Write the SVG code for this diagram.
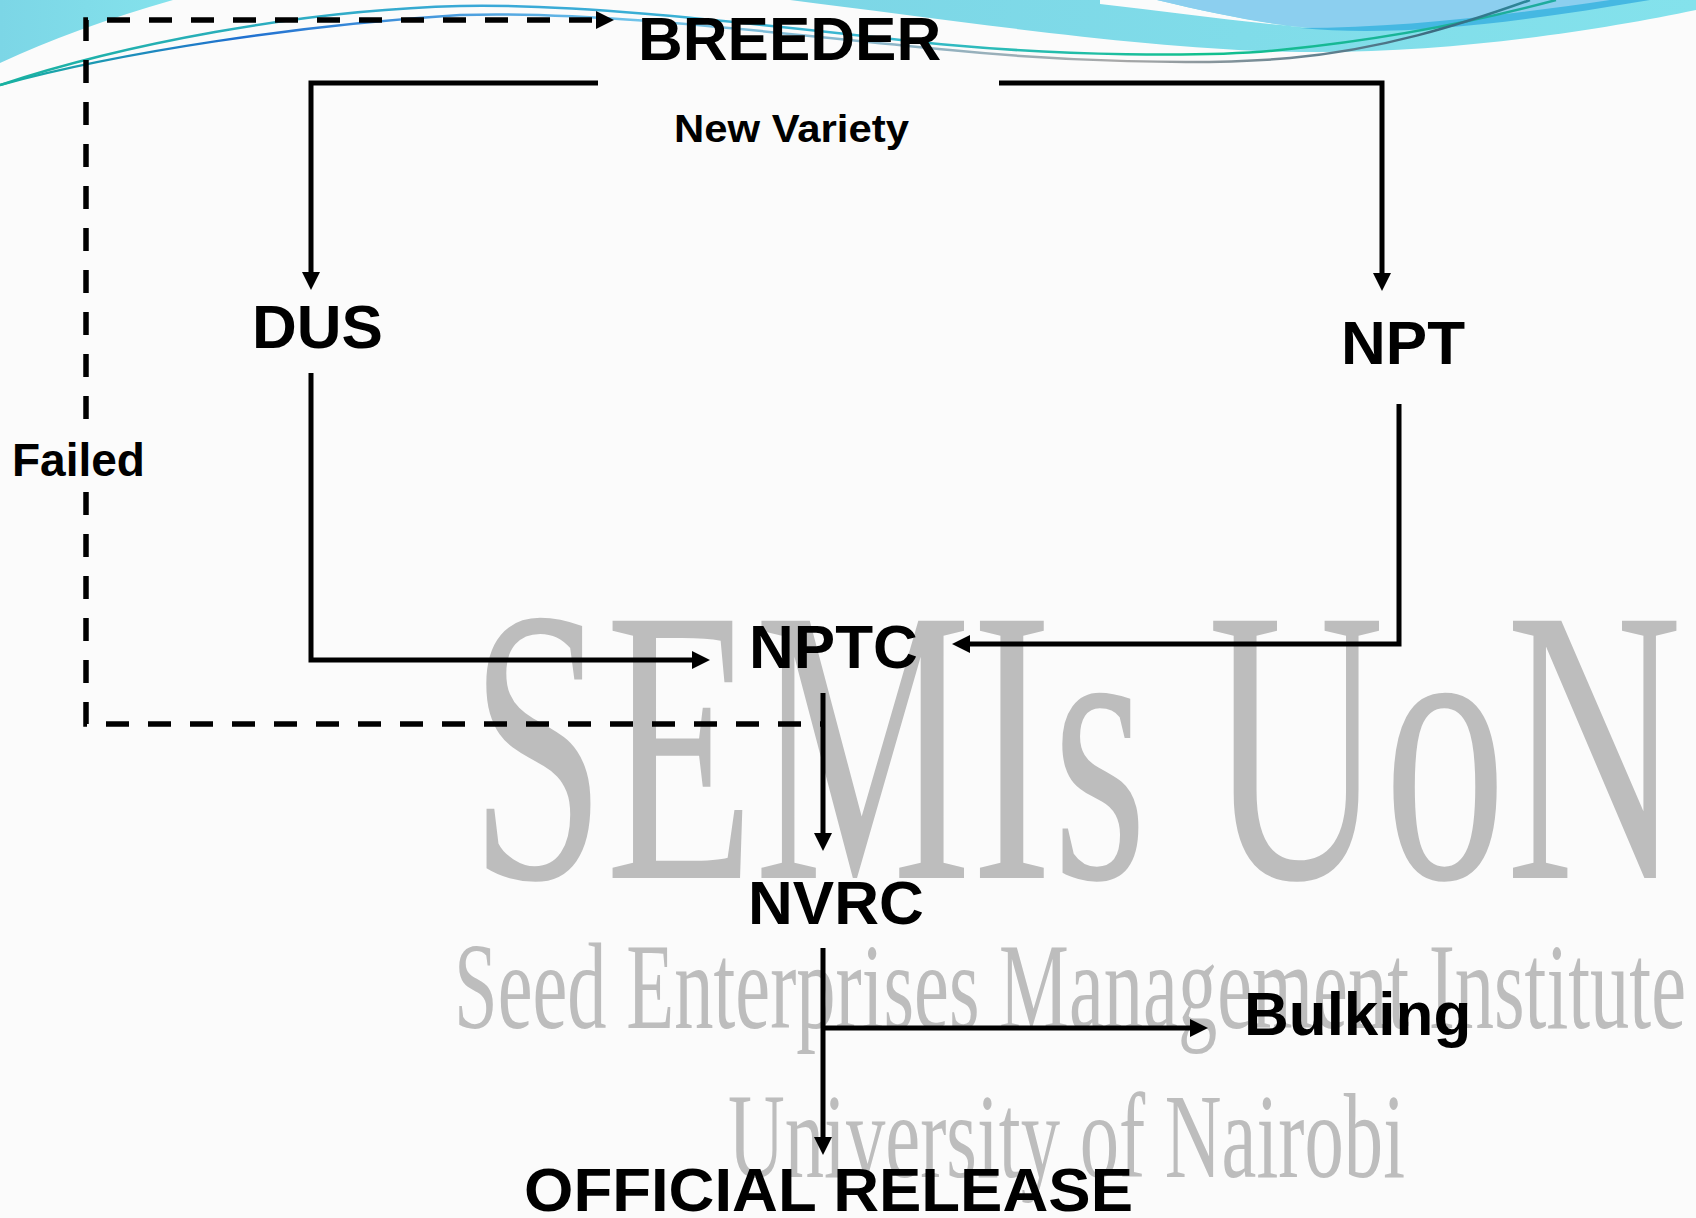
<svg xmlns="http://www.w3.org/2000/svg" width="1696" height="1218" viewBox="0 0 1696 1218">
<style>
.lbl{font-family:"Liberation Sans",Arial,sans-serif;font-weight:bold;fill:#000}
.big{font-size:62px}
.wm{font-family:"Liberation Serif","Times New Roman",serif;fill:#bdbdbd}
.con{fill:none;stroke:#000;stroke-width:5;stroke-linejoin:miter}
.dash{fill:none;stroke:#000;stroke-width:5.5;stroke-dasharray:23 19}
</style>
<defs>
<marker id="ah" viewBox="0 0 18 18" markerUnits="userSpaceOnUse" markerWidth="18" markerHeight="18" refX="6" refY="9" orient="auto">
<path d="M0,0 L18,9 L0,18 z" fill="#000"/>
</marker>
<linearGradient id="cy" x1="0" y1="0" x2="1" y2="0">
<stop offset="0" stop-color="#7cd6e6"/>
<stop offset="1" stop-color="#84e2ec"/>
</linearGradient>
<linearGradient id="l1" gradientUnits="userSpaceOnUse" x1="0" y1="0" x2="1600" y2="0">
<stop offset="0" stop-color="#19b3a0"/>
<stop offset="0.3" stop-color="#3aa8d8"/>
<stop offset="0.55" stop-color="#3ab8d0"/>
<stop offset="0.75" stop-color="#12c08e"/>
<stop offset="1" stop-color="#20a8a0"/>
</linearGradient>
<linearGradient id="l2" gradientUnits="userSpaceOnUse" x1="0" y1="0" x2="1600" y2="0">
<stop offset="0" stop-color="#19b3a0"/>
<stop offset="0.15" stop-color="#2070d0"/>
<stop offset="0.4" stop-color="#70c4ea"/>
<stop offset="0.7" stop-color="#a8a8a8"/>
<stop offset="0.9" stop-color="#3a6a80"/>
<stop offset="1" stop-color="#20a0b0"/>
</linearGradient>
</defs>
<rect x="0" y="0" width="1696" height="1218" fill="#fbfbfb"/>
<g id="background">
<path d="M0,0 L173,0 Q75,28 0,63 Z" fill="url(#cy)"/>
<path d="M790,0 C950,20 1150,50 1300,52 C1450,54 1600,30 1696,10 L1696,0 Z" fill="url(#cy)"/>
<path d="M1100,0 L1157,0 C1220,15 1270,25 1313,28 C1240,22 1170,12 1100,4 Z" fill="#fbfbfb"/>
<path d="M1157,0 C1220,15 1280,27 1330,29 C1410,31 1500,20 1640,0 Z" fill="#8ccfef"/>
<path d="M1300,28 C1400,38 1520,22 1650,0 L1610,0 C1500,16 1400,28 1300,28 Z" fill="#45b8e2"/>
<path d="M0,85 C120,45 300,10 460,6 C600,3 800,30 950,45 C1060,55 1200,58 1280,50 C1400,38 1500,15 1556,0" fill="none" stroke="url(#l1)" stroke-width="2.5"/>
<path d="M0,85 C120,52 300,25 460,15 C600,10 800,36 950,50 C1060,61 1200,66 1290,58 C1380,50 1460,25 1530,0" fill="none" stroke="url(#l2)" stroke-width="2.5"/>
</g>
<g id="watermark">
<text class="wm" x="470" y="878" font-size="393" textLength="1212" lengthAdjust="spacingAndGlyphs">SEMIs UoN</text>
<text class="wm" x="454" y="1028" font-size="122" textLength="1232" lengthAdjust="spacingAndGlyphs">Seed Enterprises Management Institute</text>
<text class="wm" x="728" y="1177" font-size="121" textLength="677" lengthAdjust="spacingAndGlyphs">University of Nairobi</text>
</g>
<g id="connectors">
<path class="con" d="M598,83 H311 V278" marker-end="url(#ah)"/>
<path class="con" d="M999,83 H1382 V279" marker-end="url(#ah)"/>
<path class="con" d="M311,373 V660 H698" marker-end="url(#ah)"/>
<path class="con" d="M1399,404 V644 H964" marker-end="url(#ah)"/>
<path class="con" d="M823,693 V839" marker-end="url(#ah)"/>
<path class="con" d="M823,948 V1143" marker-end="url(#ah)"/>
<path class="con" d="M823,1028 H1196" marker-end="url(#ah)"/>
<path class="dash" d="M86,492 V724 H823"/>
<path class="dash" d="M86,419 V20 H602" marker-end="url(#ah)"/>
</g>
<g id="breeder"><text class="lbl big" x="638" y="60">BREEDER</text></g>
<g id="new-variety"><text class="lbl" x="674" y="142" font-size="39" textLength="235" lengthAdjust="spacingAndGlyphs">New Variety</text></g>
<g id="dus"><text class="lbl big" x="252" y="348">DUS</text></g>
<g id="npt"><text class="lbl big" x="1341" y="364">NPT</text></g>
<g id="failed"><text class="lbl" x="12" y="476" font-size="46">Failed</text></g>
<g id="nptc"><text class="lbl big" x="749" y="668">NPTC</text></g>
<g id="nvrc"><text class="lbl big" x="748" y="924">NVRC</text></g>
<g id="bulking"><text class="lbl big" x="1244" y="1035">Bulking</text></g>
<g id="official-release"><text class="lbl big" x="524" y="1211" textLength="609" lengthAdjust="spacingAndGlyphs">OFFICIAL RELEASE</text></g>
</svg>
